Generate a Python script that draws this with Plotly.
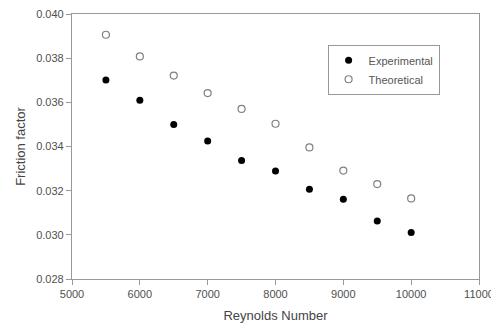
import plotly.graph_objects as go

reynolds = [5500, 6000, 6500, 7000, 7500, 8000, 8500, 9000, 9500, 10000]
experimental = [0.03701, 0.03609, 0.03500, 0.03425, 0.03337, 0.03289, 0.03206, 0.03161, 0.03063, 0.03011]
theoretical = [0.03906, 0.03808, 0.03721, 0.03642, 0.03570, 0.03503, 0.03396, 0.03291, 0.03230, 0.03165]

FONT = "Arial, Liberation Sans, sans-serif"

fig = go.Figure()
fig.add_trace(go.Scatter(
    x=reynolds, y=experimental, mode="markers", name="Experimental",
    marker=dict(symbol="circle", size=7, color="black", line=dict(width=0)),
))
fig.add_trace(go.Scatter(
    x=reynolds, y=theoretical, mode="markers", name="Theoretical",
    marker=dict(symbol="circle-open", size=7, color="#808080", line=dict(width=1.2)),
))

axis_common = dict(
    showgrid=False, zeroline=False, showline=True, linecolor="#999999", linewidth=1.2,
    mirror=True, ticks="outside", ticklen=5, tickcolor="#999999", tickwidth=1,
    tickfont=dict(family=FONT, size=11, color="#505050"), automargin=False,
    ticklabeloverflow="allow",
)

# page body has an 8px default margin, so the figure is sized to fit the window
fig.update_layout(
    width=491, height=316,
    margin=dict(l=64, r=20, t=6, b=45),
    paper_bgcolor="white", plot_bgcolor="white",
    font=dict(family=FONT, color="#444444"),
    xaxis=dict(range=[5000, 11000], dtick=1000, tick0=5000, tickformat="d",
               title=dict(text="Reynolds Number", font=dict(family=FONT, size=13, color="#444444"), standoff=11),
               **axis_common),
    yaxis=dict(range=[0.028, 0.040], dtick=0.002, tick0=0.028, tickformat=".3f",
               title=dict(text="Friction factor", font=dict(family=FONT, size=13, color="#444444"), standoff=7),
               **axis_common),
    legend=dict(x=0.628, y=0.884, xanchor="left", yanchor="top",
                bordercolor="#999999", borderwidth=1, bgcolor="white",
                font=dict(family=FONT, size=11, color="#555555"),
                tracegroupgap=0, itemsizing="trace"),
    showlegend=True,
)

fig.write_html("out.html")
